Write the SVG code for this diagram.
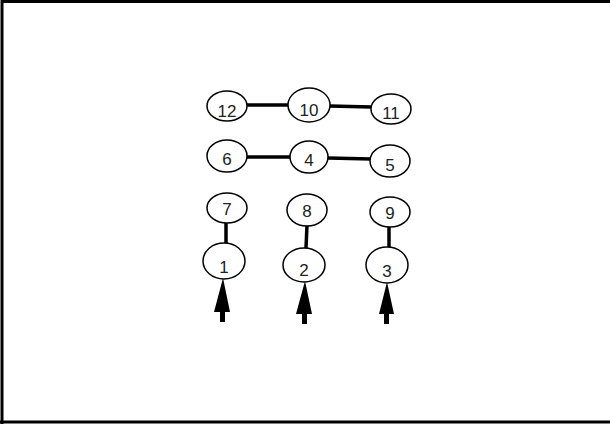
<svg xmlns="http://www.w3.org/2000/svg" width="610" height="424" viewBox="0 0 610 424">
<style>
.n ellipse{fill:#fff;stroke:#000;stroke-width:1.5}
.n text{font-family:"Liberation Sans",Arial,sans-serif;font-size:17px;text-anchor:middle;fill:#222}
.c line{stroke:#000;stroke-width:3.5}
.a{fill:#000}
</style>
<rect width="610" height="424" fill="#fff"/>
<path d="M2 1.5H610M2 0V424M0 422H610" fill="none" stroke="#000" stroke-width="3"/>
<g id="connectors" class="c">
<line x1="246" y1="105" x2="289" y2="105"/>
<line x1="330" y1="106" x2="371" y2="107"/>
<line x1="246" y1="157" x2="290" y2="157"/>
<line x1="328" y1="158" x2="371" y2="159"/>
<line x1="226" y1="222" x2="226" y2="244"/>
<line x1="307" y1="225" x2="306" y2="248"/>
<line x1="389" y1="227" x2="389" y2="248"/>
<path class="a" d="M223 278L230 312H225V322H220V312H214Z"/>
<path class="a" d="M305 281L312 314H307V324H302V314H296Z"/>
<path class="a" d="M387 282L394 314H389V324H384V314H379Z"/>
</g>
<g id="n12" class="n"><ellipse cx="227" cy="106" rx="20" ry="15"/><text x="227" y="117">12</text></g>
<g id="n10" class="n"><ellipse cx="309" cy="105" rx="21" ry="17"/><text x="309" y="116">10</text></g>
<g id="n11" class="n"><ellipse cx="391" cy="109" rx="20" ry="15"/><text x="391" y="119">11</text></g>
<g id="n6" class="n"><ellipse cx="227" cy="156" rx="20" ry="16"/><text x="227" y="165">6</text></g>
<g id="n4" class="n"><ellipse cx="309" cy="157" rx="19" ry="16"/><text x="309" y="166">4</text></g>
<g id="n5" class="n"><ellipse cx="390" cy="161" rx="20" ry="16"/><text x="390" y="171">5</text></g>
<g id="n7" class="n"><ellipse cx="227" cy="208" rx="20" ry="15"/><text x="227" y="215">7</text></g>
<g id="n8" class="n"><ellipse cx="307" cy="210" rx="20" ry="16"/><text x="307" y="217">8</text></g>
<g id="n9" class="n"><ellipse cx="390" cy="212" rx="20" ry="15"/><text x="390" y="219">9</text></g>
<g id="n1" class="n"><ellipse cx="224" cy="261" rx="21" ry="18"/><text x="224" y="273">1</text></g>
<g id="n2" class="n"><ellipse cx="304" cy="265" rx="21" ry="17"/><text x="304" y="276">2</text></g>
<g id="n3" class="n"><ellipse cx="387" cy="265" rx="21" ry="18"/><text x="387" y="277">3</text></g>
</svg>
